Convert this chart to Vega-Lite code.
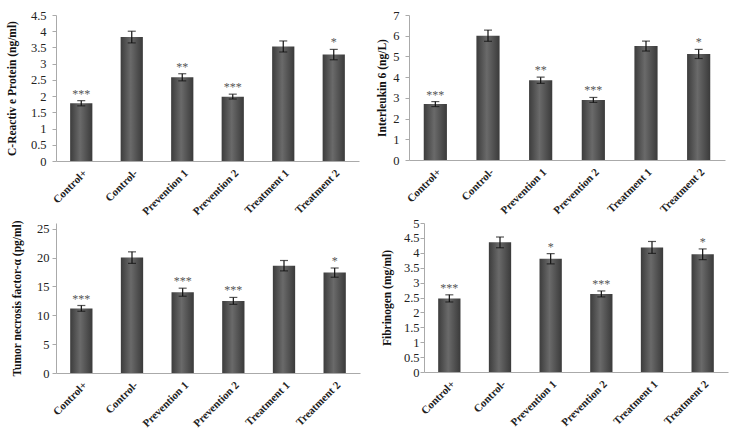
{
  "$schema": "https://vega.github.io/schema/vega-lite/v6.json",
  "padding": {"left": 6, "top": 9, "right": 4, "bottom": 0},
  "background": "white",
  "data": {
    "values": [
      {"panel": "CRP", "group": "Control+", "value": 1.78, "lo": 1.70, "hi": 1.86, "sig": "***"},
      {"panel": "CRP", "group": "Control-", "value": 3.82, "lo": 3.64, "hi": 4.00, "sig": ""},
      {"panel": "CRP", "group": "Prevention 1", "value": 2.58, "lo": 2.47, "hi": 2.69, "sig": "**"},
      {"panel": "CRP", "group": "Prevention 2", "value": 1.98, "lo": 1.91, "hi": 2.06, "sig": "***"},
      {"panel": "CRP", "group": "Treatment 1", "value": 3.53, "lo": 3.36, "hi": 3.70, "sig": ""},
      {"panel": "CRP", "group": "Treatment 2", "value": 3.28, "lo": 3.12, "hi": 3.44, "sig": "*"},
      {"panel": "IL6", "group": "Control+", "value": 2.70, "lo": 2.58, "hi": 2.82, "sig": "***"},
      {"panel": "IL6", "group": "Control-", "value": 6.00, "lo": 5.73, "hi": 6.27, "sig": ""},
      {"panel": "IL6", "group": "Prevention 1", "value": 3.85, "lo": 3.70, "hi": 4.00, "sig": "**"},
      {"panel": "IL6", "group": "Prevention 2", "value": 2.90, "lo": 2.78, "hi": 3.02, "sig": "***"},
      {"panel": "IL6", "group": "Treatment 1", "value": 5.50, "lo": 5.26, "hi": 5.74, "sig": ""},
      {"panel": "IL6", "group": "Treatment 2", "value": 5.12, "lo": 4.90, "hi": 5.34, "sig": "*"},
      {"panel": "TNF", "group": "Control+", "value": 11.2, "lo": 10.7, "hi": 11.7, "sig": "***"},
      {"panel": "TNF", "group": "Control-", "value": 20.0, "lo": 19.0, "hi": 21.0, "sig": ""},
      {"panel": "TNF", "group": "Prevention 1", "value": 14.0, "lo": 13.3, "hi": 14.7, "sig": "***"},
      {"panel": "TNF", "group": "Prevention 2", "value": 12.5, "lo": 11.9, "hi": 13.1, "sig": "***"},
      {"panel": "TNF", "group": "Treatment 1", "value": 18.6, "lo": 17.7, "hi": 19.5, "sig": ""},
      {"panel": "TNF", "group": "Treatment 2", "value": 17.4, "lo": 16.6, "hi": 18.2, "sig": "*"},
      {"panel": "FIB", "group": "Control+", "value": 2.47, "lo": 2.35, "hi": 2.59, "sig": "***"},
      {"panel": "FIB", "group": "Control-", "value": 4.35, "lo": 4.17, "hi": 4.53, "sig": ""},
      {"panel": "FIB", "group": "Prevention 1", "value": 3.80, "lo": 3.63, "hi": 3.97, "sig": "*"},
      {"panel": "FIB", "group": "Prevention 2", "value": 2.62, "lo": 2.52, "hi": 2.72, "sig": "***"},
      {"panel": "FIB", "group": "Treatment 1", "value": 4.18, "lo": 3.98, "hi": 4.38, "sig": ""},
      {"panel": "FIB", "group": "Treatment 2", "value": 3.95, "lo": 3.77, "hi": 4.13, "sig": "*"}
    ]
  },
  "vconcat": [
    {
      "spacing": 17,
      "hconcat": [
        {
          "width": 303, "height": 146,
          "transform": [{"filter": "datum.panel === 'CRP'"}],
          "encoding": {
            "x": {"field": "group", "type": "nominal", "sort": null, "title": null,
                  "scale": {"paddingInner": 0.56, "paddingOuter": 0.28}}
          },
          "layer": [
            {"mark": {"type": "bar", "color": {"gradient": "linear", "x1": 0, "x2": 1, "y1": 0, "y2": 0, "stops": [{"offset": 0, "color": "#3c3c3c"}, {"offset": 0.45, "color": "#6a6a6a"}, {"offset": 1, "color": "#3a3a3a"}]}},
             "encoding": {"y": {"field": "value", "type": "quantitative", "title": "C-Reactiv e Protein (ng/ml)", "scale": {"domain": [0, 4.5]}, "axis": {"values": [0, 0.5, 1, 1.5, 2, 2.5, 3, 3.5, 4, 4.5], "format": "~g", "titlePadding": 13, "labelPadding": 6}}}},
            {"mark": {"type": "errorbar", "ticks": {"size": 8, "color": "#111"}, "rule": {"color": "#111"}, "thickness": 1.2},
             "encoding": {"y": {"field": "lo", "type": "quantitative", "title": "C-Reactiv e Protein (ng/ml)", "axis": {"values": [0, 0.5, 1, 1.5, 2, 2.5, 3, 3.5, 4, 4.5], "format": "~g", "titlePadding": 13, "labelPadding": 6}}, "y2": {"field": "hi"}}},
            {"mark": {"type": "text", "dy": -7, "fontSize": 12, "fill": "#555", "font": "Liberation Serif"},
             "encoding": {"y": {"field": "hi", "type": "quantitative", "title": "C-Reactiv e Protein (ng/ml)", "axis": {"values": [0, 0.5, 1, 1.5, 2, 2.5, 3, 3.5, 4, 4.5], "format": "~g", "titlePadding": 13, "labelPadding": 6}}, "text": {"field": "sig"}}}
          ]
        },
        {
          "width": 316, "height": 145,
          "transform": [{"filter": "datum.panel === 'IL6'"}],
          "encoding": {
            "x": {"field": "group", "type": "nominal", "sort": null, "title": null,
                  "scale": {"paddingInner": 0.56, "paddingOuter": 0.28}}
          },
          "layer": [
            {"mark": {"type": "bar", "color": {"gradient": "linear", "x1": 0, "x2": 1, "y1": 0, "y2": 0, "stops": [{"offset": 0, "color": "#3c3c3c"}, {"offset": 0.45, "color": "#6a6a6a"}, {"offset": 1, "color": "#3a3a3a"}]}},
             "encoding": {"y": {"field": "value", "type": "quantitative", "title": "Interleukin 6 (ng/L)", "scale": {"domain": [0, 7]}, "axis": {"values": [0, 1, 2, 3, 4, 5, 6, 7], "format": "~g", "titlePadding": 5, "labelPadding": 6}}}},
            {"mark": {"type": "errorbar", "ticks": {"size": 8, "color": "#111"}, "rule": {"color": "#111"}, "thickness": 1.2},
             "encoding": {"y": {"field": "lo", "type": "quantitative", "title": "Interleukin 6 (ng/L)", "axis": {"values": [0, 1, 2, 3, 4, 5, 6, 7], "format": "~g", "titlePadding": 5, "labelPadding": 6}}, "y2": {"field": "hi"}}},
            {"mark": {"type": "text", "dy": -7, "fontSize": 12, "fill": "#555", "font": "Liberation Serif"},
             "encoding": {"y": {"field": "hi", "type": "quantitative", "title": "Interleukin 6 (ng/L)", "axis": {"values": [0, 1, 2, 3, 4, 5, 6, 7], "format": "~g", "titlePadding": 5, "labelPadding": 6}}, "text": {"field": "sig"}}}
          ]
        }
      ]
    },
    {
      "spacing": 21,
      "hconcat": [
        {
          "width": 304, "height": 150,
          "transform": [{"filter": "datum.panel === 'TNF'"}],
          "encoding": {
            "x": {"field": "group", "type": "nominal", "sort": null, "title": null,
                  "scale": {"paddingInner": 0.56, "paddingOuter": 0.28}}
          },
          "layer": [
            {"mark": {"type": "bar", "color": {"gradient": "linear", "x1": 0, "x2": 1, "y1": 0, "y2": 0, "stops": [{"offset": 0, "color": "#3c3c3c"}, {"offset": 0.45, "color": "#6a6a6a"}, {"offset": 1, "color": "#3a3a3a"}]}},
             "encoding": {"y": {"field": "value", "type": "quantitative", "title": "Tumor necrosis factor-α (pg/ml)", "scale": {"domain": [0, 25]}, "axis": {"values": [0, 5, 10, 15, 20, 25], "format": "~g", "titlePadding": 14, "labelPadding": 3}}}},
            {"mark": {"type": "errorbar", "ticks": {"size": 8, "color": "#111"}, "rule": {"color": "#111"}, "thickness": 1.2},
             "encoding": {"y": {"field": "lo", "type": "quantitative", "title": "Tumor necrosis factor-α (pg/ml)", "axis": {"values": [0, 5, 10, 15, 20, 25], "format": "~g", "titlePadding": 14, "labelPadding": 3}}, "y2": {"field": "hi"}}},
            {"mark": {"type": "text", "dy": -7, "fontSize": 12, "fill": "#555", "font": "Liberation Serif"},
             "encoding": {"y": {"field": "hi", "type": "quantitative", "title": "Tumor necrosis factor-α (pg/ml)", "axis": {"values": [0, 5, 10, 15, 20, 25], "format": "~g", "titlePadding": 14, "labelPadding": 3}}, "text": {"field": "sig"}}}
          ]
        },
        {
          "width": 304, "height": 149,
          "transform": [{"filter": "datum.panel === 'FIB'"}],
          "encoding": {
            "x": {"field": "group", "type": "nominal", "sort": null, "title": null,
                  "scale": {"paddingInner": 0.56, "paddingOuter": 0.28}}
          },
          "layer": [
            {"mark": {"type": "bar", "color": {"gradient": "linear", "x1": 0, "x2": 1, "y1": 0, "y2": 0, "stops": [{"offset": 0, "color": "#3c3c3c"}, {"offset": 0.45, "color": "#6a6a6a"}, {"offset": 1, "color": "#3a3a3a"}]}},
             "encoding": {"y": {"field": "value", "type": "quantitative", "title": "Fibrinogen (mg/ml)", "scale": {"domain": [0, 5]}, "axis": {"values": [0, 0.5, 1, 1.5, 2, 2.5, 3, 3.5, 4, 4.5, 5], "format": "~g", "titlePadding": 10.5, "labelPadding": 1}}}},
            {"mark": {"type": "errorbar", "ticks": {"size": 8, "color": "#111"}, "rule": {"color": "#111"}, "thickness": 1.2},
             "encoding": {"y": {"field": "lo", "type": "quantitative", "title": "Fibrinogen (mg/ml)", "axis": {"values": [0, 0.5, 1, 1.5, 2, 2.5, 3, 3.5, 4, 4.5, 5], "format": "~g", "titlePadding": 10.5, "labelPadding": 1}}, "y2": {"field": "hi"}}},
            {"mark": {"type": "text", "dy": -7, "fontSize": 12, "fill": "#555", "font": "Liberation Serif"},
             "encoding": {"y": {"field": "hi", "type": "quantitative", "title": "Fibrinogen (mg/ml)", "axis": {"values": [0, 0.5, 1, 1.5, 2, 2.5, 3, 3.5, 4, 4.5, 5], "format": "~g", "titlePadding": 10.5, "labelPadding": 1}}, "text": {"field": "sig"}}}
          ]
        }
      ]
    }
  ],
  "spacing": 0,
  "config": {
    "view": {"stroke": null},
    "font": "Liberation Serif",
    "axis": {"grid": false, "domainColor": "#aaa", "tickColor": "#aaa", "labelFont": "Liberation Serif", "titleFont": "Liberation Serif", "labelColor": "#222", "titleColor": "#111"},
    "axisY": {"labelFontSize": 12.5, "tickSize": 4, "titleFontSize": 11.5, "titleFontWeight": "bold"},
    "axisX": {"labelAngle": -45, "labelFontSize": 11, "labelFontWeight": "bold", "ticks": false, "labelPadding": 6}
  }
}
